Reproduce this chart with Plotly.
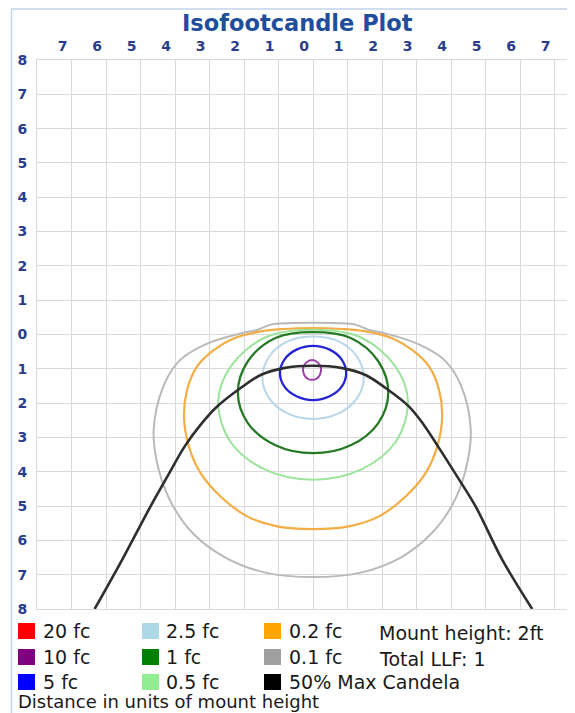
import plotly.graph_objects as go

# ---------------- data ----------------
X_TICKS = [-7, -6, -5, -4, -3, -2, -1, 0, 1, 2, 3, 4, 5, 6, 7]
X_TICK_LABELS = ["7", "6", "5", "4", "3", "2", "1", "0", "1", "2", "3", "4", "5", "6", "7"]
Y_TICKS = [8, 7, 6, 5, 4, 3, 2, 1, 0, -1, -2, -3, -4, -5, -6, -7, -8]
Y_TICK_LABELS = ["8", "7", "6", "5", "4", "3", "2", "1", "0", "1", "2", "3", "4", "5", "6", "7", "8"]

LEGEND_LABELS = ["20 fc", "10 fc", "5 fc", "2.5 fc", "1 fc", "0.5 fc", "0.2 fc", "0.1 fc", "50% Max Candela"]
LEGEND_COLORS = ["#ff0000", "#800080", "#0000ff", "#add8e6", "#008000", "#90ee90", "#ffa500", "#a0a0a0", "#000000"]
INFO_LINES = ["Mount height: 2ft", "Total LLF: 1"]
FOOTNOTE = "Distance in units of mount height"
TITLE = "Isofootcandle Plot"

# isofootcandle contours (x, y in units of mount height)
fc10_x = [-0.03, 0.14, 0.23, 0.2, 0.1, -0.03, -0.16, -0.26, -0.29, -0.2, -0.03]
fc10_y = [-0.74, -0.82, -0.98, -1.17, -1.29, -1.32, -1.29, -1.17, -0.98, -0.82, -0.74]

fc5_x = [0, 0.48, 0.83, 0.96, 0.83, 0.48, 0, -0.48, -0.83, -0.96, -0.83, -0.48, 0]
fc5_y = [-0.33, -0.44, -0.73, -1.12, -1.52, -1.80, -1.91, -1.80, -1.52, -1.12, -0.73, -0.44, -0.33]

fc25_x = [0, 0.74, 1.27, 1.47, 1.27, 0.74, 0, -0.74, -1.27, -1.47, -1.27, -0.74, 0]
fc25_y = [-0.06, -0.2, -0.64, -1.26, -1.86, -2.3, -2.46, -2.3, -1.86, -1.26, -0.64, -0.2, -0.06]

fc1_x = [0, 1.09, 1.89, 2.18, 1.89, 1.09, 0, -1.09, -1.89, -2.18, -1.89, -1.09, 0]
fc1_y = [0.07, -0.1, -0.78, -1.7, -2.58, -3.23, -3.46, -3.23, -2.58, -1.7, -0.78, -0.1, 0.07]

fc05_x = [0, 1.375, 2.38, 2.75, 2.4, 1.4, 0, -1.4, -2.4, -2.75, -2.38, -1.375, 0]
fc05_y = [0.14, -0.08, -0.92, -1.95, -3.12, -3.93, -4.23, -3.93, -3.12, -1.95, -0.92, -0.08, 0.14]

fc02_x = [0, 0.85, 1.52, 2.29, 2.87, 3.36, 3.65, 3.74, 3.60, 3.26, 2.68, 1.91, 1.04, 0,
          -1.04, -1.91, -2.68, -3.26, -3.60, -3.74, -3.65, -3.36, -2.87, -2.29, -1.52, -0.85, 0]
fc02_y = [0.19, 0.16, 0.09, -0.11, -0.45, -0.93, -1.61, -2.39, -3.26, -4.04, -4.72, -5.30, -5.59, -5.67,
          -5.59, -5.30, -4.72, -4.04, -3.26, -2.39, -1.61, -0.93, -0.45, -0.11, 0.09, 0.16, 0.19]

fc01_x = [0, 0.7, 1.25, 1.6, 2.1, 3.05, 3.8, 4.28, 4.57, 4.42, 4.04, 3.4, 2.54, 1.38, 0,
          -1.38, -2.54, -3.45, -4.08, -4.47, -4.62, -4.32, -3.85, -3.1, -2.1, -1.6, -1.25, -0.7, 0]
fc01_y = [0.34, 0.33, 0.28, 0.14, 0.03, -0.28, -0.74, -1.47, -2.79, -3.95, -4.96, -5.83, -6.5, -6.94, -7.07,
          -6.94, -6.5, -5.83, -4.96, -3.95, -2.79, -1.47, -0.74, -0.28, 0.03, 0.14, 0.28, 0.33, 0.34]

cand_x = [-6.33, -5.53, -4.71, -4.2, -3.72, -3.25, -2.78, -2.10, -1.52, -0.85, 0,
          0.85, 1.52, 2.10, 2.78, 3.2, 3.62, 4.15, 4.71, 5.48, 6.35]
cand_y = [-8.0, -6.56, -5.01, -4.1, -3.26, -2.62, -2.10, -1.56, -1.18, -0.98, -0.91,
          -0.98, -1.18, -1.56, -2.10, -2.62, -3.26, -4.1, -5.01, -6.56, -8.0]

# ---------------- layout helpers (page pixels -> paper) ----------------
OFF = 8                      # default page margin of the html body
PAGE_W, PAGE_H = 575, 713
W, H = PAGE_W - OFF, PAGE_H - OFF
PLOT_L, PLOT_T, PLOT_B = 37, 60, 609     # plot area edges in page pixels
ML, MR, MT, MB = PLOT_L - OFF, 0, PLOT_T - OFF, PAGE_H - PLOT_B
PW, PH = W - ML - MR, H - MT - MB


def px(x):
    return (x - OFF - ML) / PW


def py(y):
    return (PAGE_H - MB - y) / PH


GRID = "#d9d9d9"
NAVY = "#2b3c8c"

fig = go.Figure()

contours = [
    (fc01_x, fc01_y, "#b9b9b9", 2.0),
    (fc02_x, fc02_y, "#f4ad45", 2.2),
    (fc05_x, fc05_y, "#9ce49c", 2.0),
    (fc1_x, fc1_y, "#267a26", 2.3),
    (fc25_x, fc25_y, "#b9d6ea", 2.0),
    (fc5_x, fc5_y, "#2424d6", 2.3),
    (fc10_x, fc10_y, "#9b3fa8", 2.0),
]
for xs, ys, col, w in contours:
    fig.add_trace(go.Scatter(x=xs, y=ys, mode="lines", showlegend=False, hoverinfo="skip",
                             line=dict(color=col, width=w, shape="spline", smoothing=1.0)))

fig.add_trace(go.Scatter(x=cand_x, y=cand_y, mode="lines", showlegend=False, hoverinfo="skip",
                         line=dict(color="#2e2e2e", width=2.6, shape="spline", smoothing=1.0)))

fig.update_xaxes(range=[-8, 7.59], side="top", tickmode="array", tickvals=X_TICKS, ticktext=X_TICK_LABELS,
                 showgrid=True, gridcolor=GRID, gridwidth=1, zeroline=False,
                 showline=True, linecolor=GRID, linewidth=1, mirror=True,
                 ticks="", ticklabelshift=-9, ticklabelstandoff=2,
                 tickfont=dict(family="DejaVu Sans", size=14, color=NAVY, weight="bold"),
                 fixedrange=True)
fig.update_yaxes(range=[-8, 8], tickmode="array", tickvals=Y_TICKS, ticktext=Y_TICK_LABELS,
                 showgrid=True, gridcolor=GRID, gridwidth=1, zeroline=False,
                 showline=True, linecolor=GRID, linewidth=1, mirror=False,
                 ticks="", ticklabelstandoff=6,
                 tickfont=dict(family="DejaVu Sans", size=14, color=NAVY, weight="bold"),
                 fixedrange=True)

shapes = []
annotations = []

# outer light-blue frame
shapes.append(dict(type="line", xref="paper", yref="paper", x0=px(11.5), x1=px(PAGE_W + 5), y0=py(9), y1=py(9),
                   line=dict(color="#c3d3ea", width=1.5)))
shapes.append(dict(type="line", xref="paper", yref="paper", x0=px(11.5), x1=px(11.5), y0=py(9), y1=py(PAGE_H + 5),
                   line=dict(color="#c3d3ea", width=1.5)))

# title
annotations.append(dict(text=TITLE, xref="paper", yref="paper", x=px(297), y=py(23), xanchor="center",
                        yanchor="middle", showarrow=False,
                        font=dict(family="DejaVu Sans", size=22.5, color="#1f4e9c", weight="bold")))

# legend grid (3 columns x 3 rows)
col_sq = [18, 142, 264]
col_tx = [41, 164, 287]
row_y = [631, 657, 682]
for i, (lab, col) in enumerate(zip(LEGEND_LABELS, LEGEND_COLORS)):
    c, r = divmod(i, 3)
    shapes.append(dict(type="rect", xref="paper", yref="paper", x0=px(col_sq[c]), x1=px(col_sq[c] + 17),
                       y0=py(row_y[r] - 8), y1=py(row_y[r] + 8), fillcolor=col, line=dict(width=0)))
    annotations.append(dict(text=lab, xref="paper", yref="paper", x=px(col_tx[c]), y=py(row_y[r]),
                            xanchor="left", yanchor="middle", showarrow=False,
                            font=dict(family="DejaVu Sans", size=19, color="#1a1a1a")))

for j, line in enumerate(INFO_LINES):
    annotations.append(dict(text=line, xref="paper", yref="paper", x=px(377), y=py(row_y[j] + 2),
                            xanchor="left", yanchor="middle", showarrow=False,
                            font=dict(family="DejaVu Sans", size=19, color="#1a1a1a")))

annotations.append(dict(text=FOOTNOTE, xref="paper", yref="paper", x=px(16), y=py(701),
                        xanchor="left", yanchor="middle", showarrow=False,
                        font=dict(family="DejaVu Sans", size=18, color="#1a1a1a")))

fig.update_layout(width=W, height=H, autosize=False,
                  margin=dict(l=ML, r=MR, t=MT, b=MB, pad=0),
                  paper_bgcolor="white", plot_bgcolor="white",
                  shapes=shapes, annotations=annotations, showlegend=False)

fig.write_html("out.html", include_plotlyjs=True, config={"displayModeBar": False})
